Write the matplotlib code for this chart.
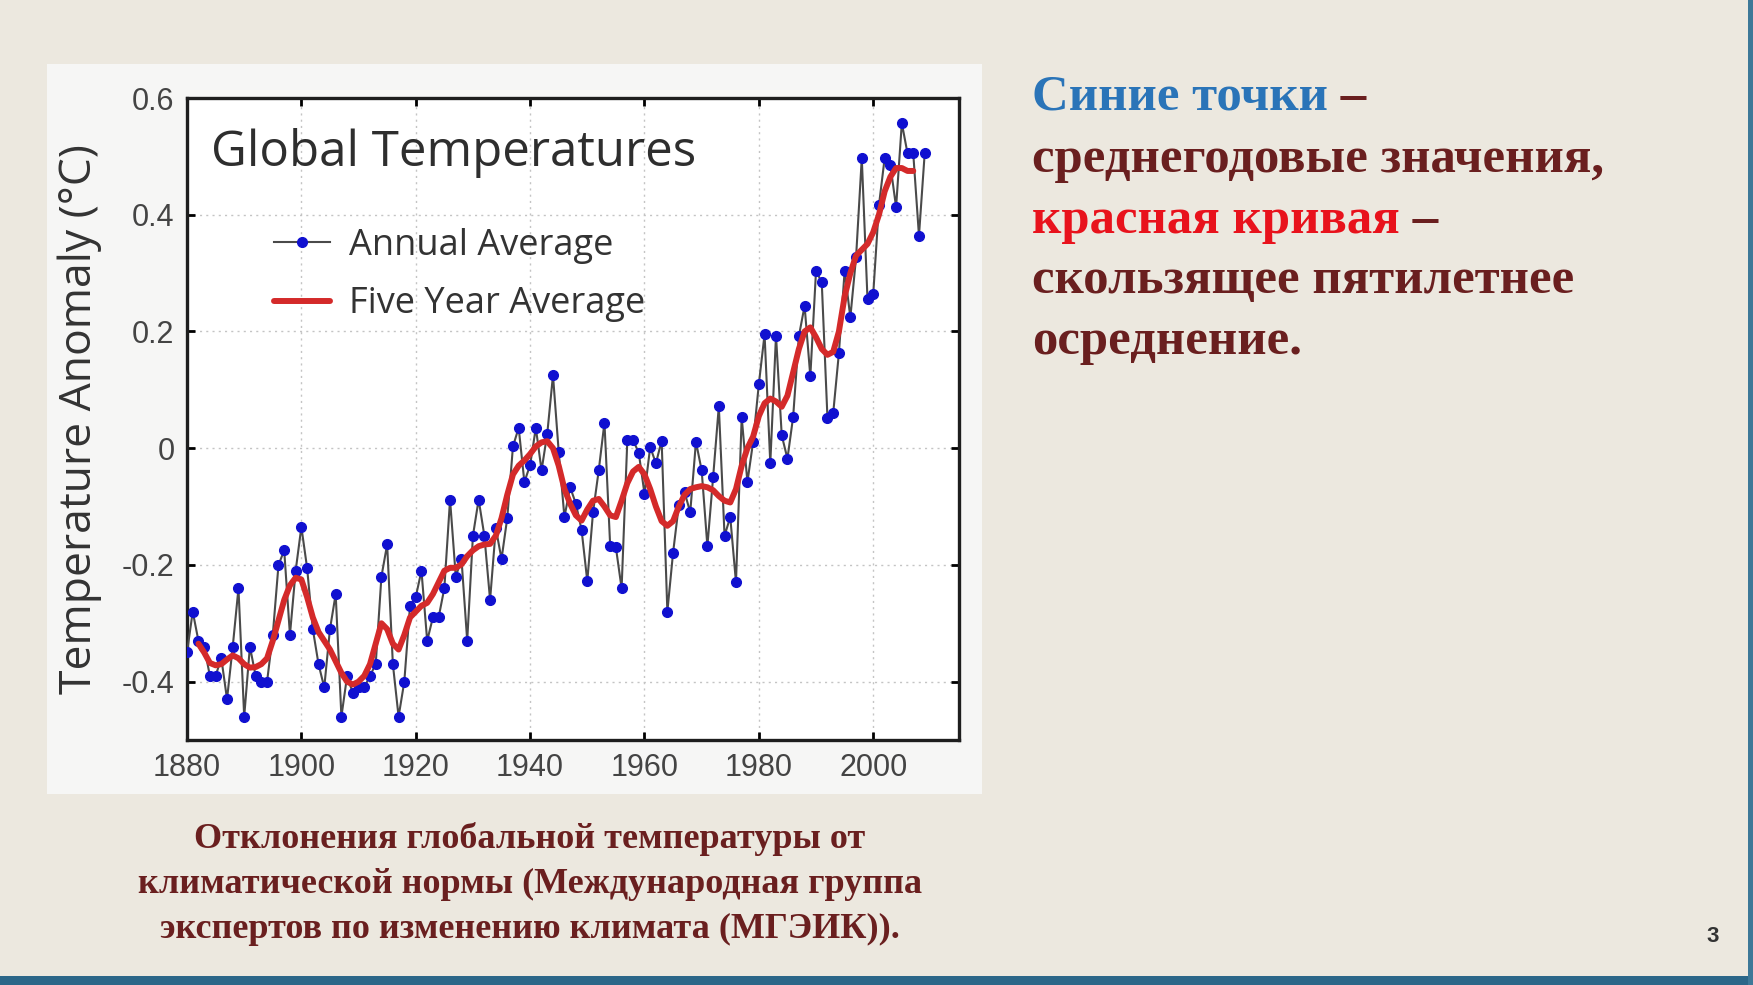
import numpy as np
import matplotlib
matplotlib.use("Agg")
import matplotlib.pyplot as plt
from matplotlib.patches import Rectangle

# annual global temperature anomaly (deg C)
first_year = 1880
annual = [
    -0.35, -0.28, -0.33, -0.34, -0.39, -0.39, -0.36, -0.43, -0.34, -0.24,   # 1880s
    -0.46, -0.34, -0.39, -0.40, -0.40, -0.32, -0.20, -0.175, -0.32, -0.21,  # 1890s
    -0.135, -0.205, -0.31, -0.37, -0.41, -0.31, -0.25, -0.46, -0.39, -0.42, # 1900s
    -0.41, -0.41, -0.39, -0.37, -0.22, -0.165, -0.37, -0.46, -0.40, -0.27,  # 1910s
    -0.255, -0.21, -0.33, -0.29, -0.29, -0.24, -0.088, -0.22, -0.19, -0.33, # 1920s
    -0.15, -0.088, -0.15, -0.26, -0.137, -0.19, -0.12, 0.003, 0.035, -0.058, # 1930s
    -0.029, 0.035, -0.038, 0.025, 0.125, -0.006, -0.118, -0.067, -0.095, -0.14, # 1940s
    -0.228, -0.11, -0.038, 0.044, -0.167, -0.17, -0.24, 0.014, 0.014, -0.008,  # 1950s
    -0.078, 0.002, -0.026, 0.013, -0.28, -0.179, -0.098, -0.075, -0.11, 0.011, # 1960s
    -0.038, -0.168, -0.05, 0.072, -0.15, -0.118, -0.23, 0.053, -0.058, 0.011,  # 1970s
    0.11, 0.195, -0.026, 0.193, 0.022, -0.018, 0.054, 0.192, 0.244, 0.123,     # 1980s
    0.304, 0.284, 0.051, 0.060, 0.163, 0.304, 0.224, 0.327, 0.497, 0.255,      # 1990s
    0.264, 0.416, 0.497, 0.485, 0.413, 0.557, 0.505, 0.505, 0.364, 0.505,      # 2000s
]

# five year running mean as drawn (red curve)
first_year_5 = 1882
five_year = [
    -0.335, -0.35, -0.368, -0.372, -0.37, -0.362, -0.355, -0.36,
    -0.37, -0.376, -0.375, -0.37, -0.36, -0.33, -0.295, -0.26, -0.235, -0.222,
    -0.225, -0.255, -0.29, -0.315, -0.33, -0.345, -0.365, -0.385, -0.40, -0.405,
    -0.40, -0.39, -0.37, -0.335, -0.30, -0.31, -0.335, -0.345, -0.32, -0.29,
    -0.28, -0.27, -0.265, -0.25, -0.23, -0.21, -0.205, -0.205, -0.199, -0.185,
    -0.175, -0.168, -0.165, -0.164, -0.15, -0.12, -0.08, -0.045, -0.03, -0.021,
    -0.01, 0.003, 0.01, 0.012, 0.0, -0.03, -0.07, -0.095, -0.115, -0.124,
    -0.105, -0.09, -0.087, -0.10, -0.115, -0.118, -0.09, -0.06, -0.04, -0.032,
    -0.045, -0.07, -0.10, -0.125, -0.133, -0.125, -0.10, -0.08, -0.07, -0.067,
    -0.065, -0.067, -0.072, -0.082, -0.09, -0.093, -0.07, -0.03, 0.0, 0.02,
    0.055, 0.077, 0.085, 0.08, 0.071, 0.09, 0.13, 0.17, 0.2, 0.207,
    0.19, 0.17, 0.16, 0.165, 0.2, 0.26, 0.3, 0.33, 0.34, 0.35,
    0.37, 0.40, 0.44, 0.465, 0.48, 0.48, 0.475, 0.475,
]

x_ticks = [1880, 1900, 1920, 1940, 1960, 1980, 2000]
y_ticks = [-0.4, -0.2, 0, 0.2, 0.4, 0.6]
y_ticklabels = ["-0.4", "-0.2", "0", "0.2", "0.4", "0.6"]

years = np.arange(first_year, first_year + len(annual))
years5 = np.arange(first_year_5, first_year_5 + len(five_year))

W, H = 1753, 985
fig = plt.figure(figsize=(W / 100, H / 100), dpi=100, facecolor="#ECE8DF")

# light panel behind the chart picture
fig.patches.append(Rectangle((47 / W, 1 - 794 / H), (982 - 47) / W, (794 - 64) / H,
                             transform=fig.transFigure, facecolor="#F6F6F5",
                             edgecolor="none", zorder=-5))
# blue strips on the slide edges
fig.patches.append(Rectangle((0, 0), 1, 9 / H, transform=fig.transFigure,
                             facecolor="#2B6688", edgecolor="none", zorder=-5))
fig.patches.append(Rectangle((1 - 5 / W, 0), 5 / W, 1, transform=fig.transFigure,
                             facecolor="#3D7898", edgecolor="none", zorder=-5))

ax = fig.add_axes([187 / W, 1 - 740 / H, (959 - 187) / W, (740 - 98) / H])
ax.set_zorder(2)
ax.set_facecolor("white")

ax.plot(years, annual, color="#4A4A4A", lw=1.5, marker="o", ms=7,
        mfc="#1010D0", mec="#1010D0", label="Annual Average", zorder=3)
ax.plot(years5, five_year, color="#D42A2A", lw=4.3, label="Five Year Average",
        zorder=4, solid_capstyle="round")

ax.set_xlim(1880, 2015)
ax.set_ylim(-0.5, 0.6)
ax.set_xticks(x_ticks)
ax.set_yticks(y_ticks)
ax.set_yticklabels(y_ticklabels)
ax.grid(True, color="#C4C4C4", linestyle=(0, (1.5, 3)), lw=1.0)
ax.tick_params(direction="in", length=6, width=2, top=True, right=True,
               labelsize=22, labelcolor="#444444", pad=9)
for s in ax.spines.values():
    s.set_linewidth(2.4)
    s.set_color("#1E1E1E")
for lab in ax.get_xticklabels() + ax.get_yticklabels():
    lab.set_family("Liberation Sans")

ax.set_ylabel("Temperature Anomaly (\u00b0C)", fontsize=32, color="#333333",
              family="Open Sans", labelpad=14)

ax.text(0.031, 0.915, "Global Temperatures", transform=ax.transAxes,
        fontsize=35.5, color="#2E2E2E", family="Open Sans", fontweight="medium",
        va="center")
leg = ax.legend(loc="upper left", bbox_to_anchor=(0.07, 0.848), frameon=False,
                handlelength=1.55, handletextpad=0.55, labelspacing=0.62,
                prop={"family": "Open Sans", "size": 26})
for t in leg.get_texts():
    t.set_color("#333333")

# right side text
serif = "Liberation Serif"
maroon = "#6A1F1F"
fs = 36.5
x0 = 1032 / W
lines_y = [98, 160, 221, 281, 342]
t = fig.text(x0, 1 - lines_y[0] / H, "Синие точки", color="#2A74B8",
             fontsize=fs, fontweight="bold", family=serif, va="center")
fig.canvas.draw()
bb = t.get_window_extent()
fig.text(bb.x1 / W, 1 - lines_y[0] / H, " –", color=maroon, fontsize=fs,
         fontweight="bold", family=serif, va="center")
fig.text(x0, 1 - lines_y[1] / H, "среднегодовые значения,", color=maroon,
         fontsize=fs, fontweight="bold", family=serif, va="center")
t = fig.text(x0, 1 - lines_y[2] / H, "красная кривая", color="#E8121C",
             fontsize=fs, fontweight="bold", family=serif, va="center")
fig.canvas.draw()
bb = t.get_window_extent()
fig.text(bb.x1 / W, 1 - lines_y[2] / H, " –", color=maroon, fontsize=fs,
         fontweight="bold", family=serif, va="center")
fig.text(x0, 1 - lines_y[3] / H, "скользящее пятилетнее", color=maroon,
         fontsize=fs, fontweight="bold", family=serif, va="center")
fig.text(x0, 1 - lines_y[4] / H, "осреднение.", color=maroon,
         fontsize=fs, fontweight="bold", family=serif, va="center")

# caption under the chart
caption = ["Отклонения глобальной температуры от",
           "климатической нормы (Международная группа",
           "экспертов по изменению климата (МГЭИК))."]
for i, line in enumerate(caption):
    fig.text(530 / W, 1 - (839 + 45 * i) / H, line, color=maroon, fontsize=26,
             fontweight="bold", family=serif, ha="center", va="center")

fig.text(1713 / W, 1 - 937 / H, "3", color="#333333", fontsize=16,
         family="Liberation Sans", fontweight="bold", ha="center", va="center")

fig.savefig("out.png", dpi=100, facecolor=fig.get_facecolor())
